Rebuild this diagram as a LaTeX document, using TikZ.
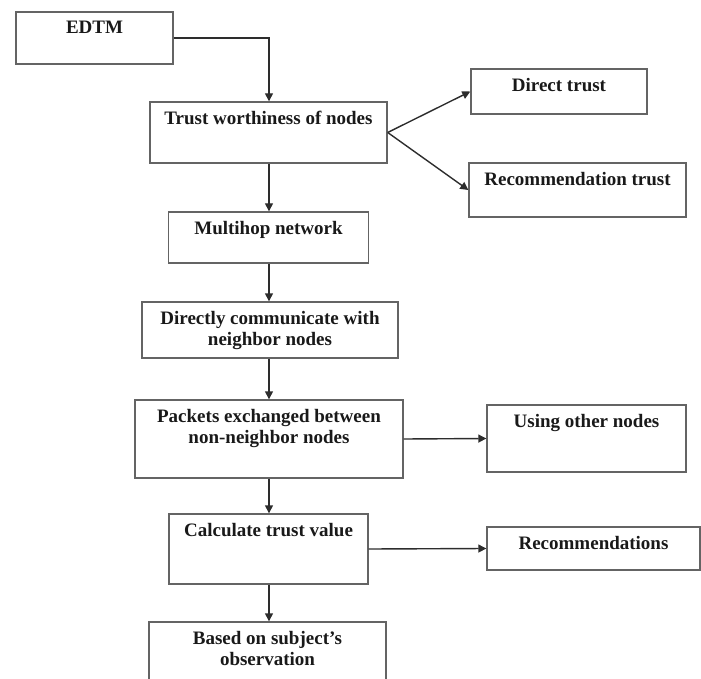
\documentclass[tikz,border=0pt]{standalone}
\usepackage{xcolor}
\usepackage{fontspec}
\setmainfont{Liberation Serif}
\usetikzlibrary{positioning,calc,arrows.meta}

\definecolor{boxgray}{RGB}{100,100,100}
\definecolor{arrowgray}{RGB}{45,45,45}

\tikzset{
    blk/.style={draw=boxgray, line width=1.4pt, minimum width=#1, inner sep=0pt},
    txt/.style={anchor=north, yshift=-10pt, inner sep=0pt, align=center,
        text=black!90, font=\bfseries\fontsize{19}{20.5}\selectfont},
    arr/.style={draw=arrowgray, line width=1.4pt, -{Triangle[length=8pt,width=8pt]}}
}

\begin{document}
\begin{tikzpicture}[x=1pt,y=-1pt]
    \useasboundingbox (0,0) rectangle (701,679);
    \coordinate (col) at (269,0);

    % main column
    \node[blk=157pt, minimum height=52pt, label={[txt]north:EDTM}] (edtm) at (94.5,38) {};
    \node[blk=237pt, minimum height=61pt, label={[txt]north:Trust worthiness of nodes}] (trust) at (268.5,132.5) {};
    \node[blk=200pt, minimum height=51pt, label={[txt]north:Multihop network}] (multi) at (268.5,237.5) {};
    \node[blk=256pt, minimum height=56pt, label={[txt]north:{Directly communicate with\\neighbor nodes}}] (direct) at (270,330) {};
    \node[blk=268pt, minimum height=78pt, label={[txt]north:{Packets exchanged between\\non-neighbor nodes}}] (packets) at (269,439) {};
    \node[blk=199pt, minimum height=70pt, label={[txt]north:Calculate trust value}] (calc) at (268.5,549) {};
    \node[blk=237pt, minimum height=66pt, label={[txt]north:{Based on subject's\\observation}}] (based) at (267.5,655) {};

    % side boxes
    \node[blk=176pt, minimum height=45pt, label={[txt]north:Direct trust}] (dtrust) at (559,91.5) {};
    \node[blk=217pt, minimum height=54pt, label={[txt]north:Recommendation trust}] (rtrust) at (577.5,190) {};
    \node[blk=199pt, minimum height=67pt, label={[txt]north:Using other nodes}] (using) at (586.5,438.5) {};
    \node[blk=213pt, minimum height=43pt, label={[txt]north:Recommendations}] (recs) at (593.5,548.5) {};

    % connectors
    \draw[arr] (edtm.east) -| (trust.north -| col);
    \draw[arr] (trust.east) -- (dtrust.west);
    \draw[arr] (trust.east) -- (rtrust.west);
    \draw[arr] (trust.south -| col) -- (multi.north -| col);
    \draw[arr] (multi.south -| col) -- (direct.north -| col);
    \draw[arr] (direct.south -| col) -- (packets.north -| col);
    \draw[arr] (packets.east) -- (using.west);
    \draw[arr] (packets.south -| col) -- (calc.north -| col);
    \draw[arr] (calc.east) -- (recs.west);
    \draw[arr] (calc.south -| col) -- (based.north -| col);
\end{tikzpicture}
\end{document}
